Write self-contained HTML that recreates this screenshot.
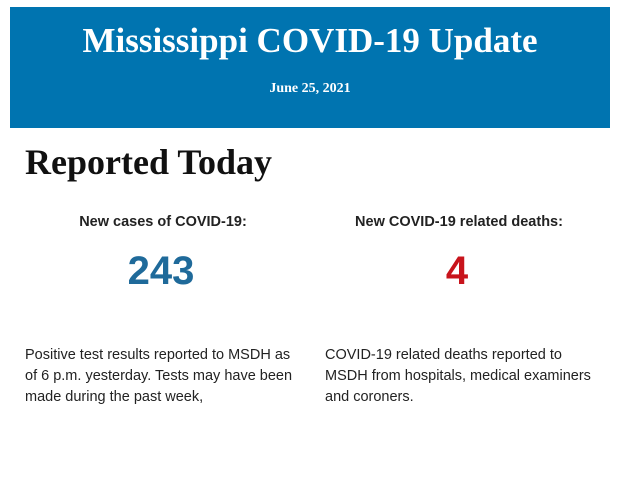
<!DOCTYPE html>
<html><head><meta charset="utf-8"><style>
body{margin:0;width:620px;height:483px;background:#fff;position:relative;overflow:hidden}
.hdr{position:absolute;left:10px;top:7px;width:600px;height:121px;background:#0074b0}
.t{position:absolute;left:0;width:600px;text-align:center;color:#fff;font-family:"Liberation Serif",serif;font-weight:bold}
.a{position:absolute;font-family:"Liberation Sans",sans-serif}
</style></head><body>
<div class="hdr">
<div class="t" style="top:14px;font-size:35px;">Mississippi COVID-19 Update</div>
<div class="t" style="top:74px;font-size:14px;">June 25, 2021</div>
</div>
<div class="a" style="left:25px;top:141px;font-family:'Liberation Serif',serif;font-weight:bold;font-size:36px;color:#111">Reported Today</div>
<div class="a" style="left:13px;width:300px;text-align:center;top:214px;font-size:14.5px;font-weight:bold;color:#222">New cases of COVID-19:</div>
<div class="a" style="left:309px;width:300px;text-align:center;top:214px;font-size:14.5px;font-weight:bold;color:#222">New COVID-19 related deaths:</div>
<div class="a" style="left:11px;width:300px;text-align:center;top:249px;font-size:40px;font-weight:bold;color:#1f6a9a">243</div>
<div class="a" style="left:307px;width:300px;text-align:center;top:249px;font-size:40px;font-weight:bold;color:#c8141c">4</div>
<div class="a" style="left:25px;top:345px;width:300px;font-size:14.5px;line-height:21px;color:#222;white-space:nowrap">Positive test results reported to MSDH as<br>of 6 p.m. yesterday. Tests may have been<br>made during the past week,</div>
<div class="a" style="left:325px;top:345px;width:290px;font-size:14.5px;line-height:21px;color:#222;white-space:nowrap">COVID-19 related deaths reported to<br>MSDH from hospitals, medical examiners<br>and coroners.</div>
</body></html>
